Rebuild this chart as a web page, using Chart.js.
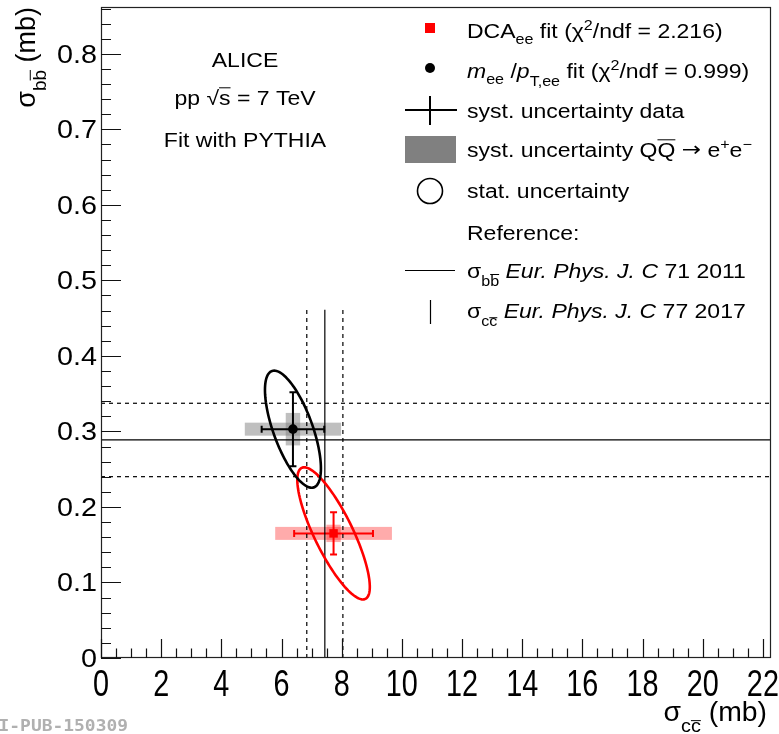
<!DOCTYPE html>
<html><head><meta charset="utf-8">
<script src="https://cdn.jsdelivr.net/npm/chart.js@4"></script>
<style>html,body{margin:0;padding:0;background:#fff;}#wrap{width:779px;height:734px;}</style>
</head><body><div id="wrap"><canvas id="c" width="779" height="734"></canvas></div>
<script>
// ---- data ----
const fitLabels = ['DCA_ee fit', 'm_ee / pT,ee fit'];
const sigmaCC = [7.73, 6.38];          // mb
const sigmaBB = [0.165, 0.303];        // mb
const statErrCC = [1.31, 1.04];
const statErrBB = [0.028, 0.049];
const systCC = [1.94, 1.60];
const systBB = [0.0115, 0.0215];
const ellSigCC = [1.205, 0.93];
const ellSigBB = [0.0875, 0.0775];
const ellRho = [-0.81, -0.67];
const refBB = 0.2887, refBBErr = 0.0486;   // Eur. Phys. J. C 71 2011
const refCC = 7.44, refCCErr = 0.60;       // Eur. Phys. J. C 77 2017
const refCCTop = 0.461;
const xTicks = [0,2,4,6,8,10,12,14,16,18,20,22];
const yTicks = [0,0.1,0.2,0.3,0.4,0.5,0.6,0.7,0.8];
const xMax = 22.27, yMax = 0.862;

const FONT = '"Liberation Sans", Arial, Helvetica, sans-serif';
const RED = '#ff0000';

function rich(ctx, x, y, segs, size, hs, align){
  let w = 0; const parts = [];
  for (const s of segs){
    const sz = (s.sub || s.sup) ? size*0.7 : size*(s.scale || 1);
    const font = (s.it ? 'italic ' : '') + sz + 'px ' + (s.font || FONT);
    ctx.font = font;
    const mw = ctx.measureText(s.t).width;
    parts.push({s, sz, font, x: w, mw});
    w += mw + (s.gap || 0);
  }
  const x0 = align === 'center' ? -w/2 : align === 'right' ? -w : 0;
  ctx.save(); ctx.translate(x, y); ctx.scale(hs, 1);
  for (const p of parts){
    ctx.font = p.font;
    const dy = p.s.sub ? size*(p.s.deep ? 0.42 : 0.3) : p.s.sup ? -size*0.4 : (p.s.dy || 0);
    ctx.fillText(p.s.t, x0 + p.x, dy);
    if (p.s.over){
      ctx.beginPath();
      ctx.lineWidth = 1;
      const oy = dy - p.sz*(p.s.oy || 0.8);
      ctx.moveTo(x0 + p.x + (p.s.ox || 0), oy); ctx.lineTo(x0 + p.x + p.mw, oy);
      ctx.strokeStyle = ctx.fillStyle; ctx.stroke();
    }
  }
  ctx.restore();
  return w*hs;
}

const rootPlugin = {
  id: 'rootStyle',
  beforeDatasetsDraw(chart){
    const ctx = chart.ctx, xs = chart.scales.x, ys = chart.scales.y;
    const X = v => xs.getPixelForValue(v), Y = v => ys.getPixelForValue(v);
    const boxFill = ['rgba(255,0,0,0.33)', 'rgba(128,128,128,0.5)'];
    const halfH = 6.5, halfW = 7.2;
    ctx.save();
    for (let i = 0; i < sigmaCC.length; i++){
      const px = X(sigmaCC[i]), py = Y(sigmaBB[i]);
      ctx.fillStyle = boxFill[i];
      const x1 = X(sigmaCC[i]-systCC[i]), x2 = X(sigmaCC[i]+systCC[i]);
      ctx.fillRect(x1, py-halfH, x2-x1, 2*halfH);
      const y1 = Y(sigmaBB[i]+systBB[i]), y2 = Y(sigmaBB[i]-systBB[i]);
      ctx.fillRect(px-halfW, y1, 2*halfW, y2-y1);
    }
    const col = [RED, '#000'];
    for (let i = 0; i < sigmaCC.length; i++){
      const px = X(sigmaCC[i]), py = Y(sigmaBB[i]);
      const xa = X(sigmaCC[i]-statErrCC[i]), xb = X(sigmaCC[i]+statErrCC[i]);
      const ya = Y(sigmaBB[i]+statErrBB[i]), yb = Y(sigmaBB[i]-statErrBB[i]);
      ctx.strokeStyle = col[i]; ctx.lineWidth = 2;
      ctx.beginPath();
      ctx.moveTo(xa, py); ctx.lineTo(xb, py);
      ctx.moveTo(px, ya); ctx.lineTo(px, yb);
      ctx.moveTo(xa, py-3.5); ctx.lineTo(xa, py+3.5);
      ctx.moveTo(xb, py-3.5); ctx.lineTo(xb, py+3.5);
      ctx.moveTo(px-3.5, ya); ctx.lineTo(px+3.5, ya);
      ctx.moveTo(px-3.5, yb); ctx.lineTo(px+3.5, yb);
      ctx.stroke();
    }
    ctx.restore();
  },
  afterDatasetsDraw(chart){
    const ctx = chart.ctx, xs = chart.scales.x, ys = chart.scales.y;
    const X = v => xs.getPixelForValue(v), Y = v => ys.getPixelForValue(v);
    const col = [RED, '#000'];
    ctx.save();
    for (let i = 0; i < sigmaCC.length; i++){
      ctx.strokeStyle = col[i]; ctx.lineWidth = 2.6;
      ctx.beginPath();
      const r = ellRho[i], q = Math.sqrt(1 - r*r);
      for (let k = 0; k <= 120; k++){
        const t = k/120*2*Math.PI;
        const vx = sigmaCC[i] + ellSigCC[i]*Math.cos(t);
        const vy = sigmaBB[i] + ellSigBB[i]*(r*Math.cos(t) + q*Math.sin(t));
        if (k === 0) ctx.moveTo(X(vx), Y(vy)); else ctx.lineTo(X(vx), Y(vy));
      }
      ctx.closePath(); ctx.stroke();
    }
    ctx.restore();
  },
  afterDraw(chart){
    const ctx = chart.ctx, xs = chart.scales.x, ys = chart.scales.y, a = chart.chartArea;
    const X = v => xs.getPixelForValue(v), Y = v => ys.getPixelForValue(v);
    ctx.save();
    ctx.strokeStyle = '#222'; ctx.lineWidth = 1.2;
    ctx.strokeRect(a.left+0.5, a.top+0.5, a.right-a.left-1, a.bottom-a.top-1);
    ctx.strokeStyle = '#111'; ctx.lineWidth = 1.2;
    ctx.beginPath();
    for (let v = 0; v <= xMax + 1e-9; v += 0.5){
      const major = Math.abs(v/2 - Math.round(v/2)) < 1e-6;
      const px = Math.round(X(v)) + 0.5;
      ctx.moveTo(px, a.bottom); ctx.lineTo(px, a.bottom - (major ? 19 : 9.5));
    }
    for (let v = 0; v <= yMax + 1e-9; v += 0.02){
      const major = Math.abs(v*10 - Math.round(v*10)) < 1e-6;
      const py = Math.round(Y(v)) + 0.5;
      ctx.moveTo(a.left, py); ctx.lineTo(a.left + (major ? 20 : 10), py);
    }
    ctx.stroke();
    ctx.fillStyle = '#000';
    for (const v of xTicks){
      rich(ctx, X(v), 696, [{t: String(v)}], 36, 0.8, 'center');
    }
    for (const v of yTicks){
      rich(ctx, 97, Y(v) + 9, [{t: v === 0 ? '0' : v.toFixed(1)}], 25, 1.15, 'right');
    }
    rich(ctx, 767, 721, [{t:'σ'},{t:'c', sub:true, deep:true},{t:'c', sub:true, deep:true, over:true, oy:0.62},{t:' (mb)'}], 27, 1.05, 'right');
    ctx.save(); ctx.translate(35, 7); ctx.rotate(-Math.PI/2);
    rich(ctx, 0, 0, [{t:'σ'},{t:'b', sub:true, deep:true},{t:'b', sub:true, deep:true, over:true, oy:0.85},{t:' (mb)'}], 27, 1.0, 'right');
    ctx.restore();
    const T = 20, HS = 1.15, cx = 245;
    rich(ctx, cx, 67, [{t:'ALICE'}], T, HS, 'center');
    rich(ctx, cx, 105, [{t:'pp '},{t:'√'},{t:'s', over:true, oy:0.86},{t:' = 7 TeV'}], T, HS, 'center');
    rich(ctx, cx, 147, [{t:'Fit with PYTHIA'}], T, HS, 'center');
    const LX = 467;
    ctx.fillStyle = RED; ctx.fillRect(425, 23, 10, 10);
    ctx.fillStyle = '#000';
    rich(ctx, LX, 38, [{t:'DCA'},{t:'ee', sub:true},{t:' fit (χ'},{t:'2', sup:true},{t:'/ndf = 2.216)'}], T, HS, 'left');
    ctx.beginPath(); ctx.arc(430, 68, 5, 0, 2*Math.PI); ctx.fill();
    rich(ctx, LX, 78, [{t:'m', it:true},{t:'ee', sub:true},{t:' /'},{t:'p', it:true},{t:'T,ee', sub:true, deep:true},{t:' fit (χ'},{t:'2', sup:true},{t:'/ndf = 0.999)'}], T, HS, 'left');
    ctx.strokeStyle = '#000'; ctx.lineWidth = 2;
    ctx.beginPath(); ctx.moveTo(405, 110); ctx.lineTo(457, 110); ctx.moveTo(430, 96); ctx.lineTo(430, 125); ctx.stroke();
    rich(ctx, LX, 118, [{t:'syst. uncertainty data'}], T, HS, 'left');
    ctx.fillStyle = '#808080'; ctx.fillRect(405, 136, 51, 27);
    ctx.fillStyle = '#000';
    rich(ctx, LX, 157, [{t:'syst. uncertainty Q'},{t:'Q', over:true, oy:0.86},{t:' '},{t:'→', font:'"DejaVu Sans", sans-serif', scale:1.0, dy:-1},{t:' e'},{t:'+', sup:true},{t:'e'},{t:'−', sup:true}], T, HS, 'left');
    ctx.lineWidth = 1.6; ctx.beginPath(); ctx.arc(430, 191, 12.5, 0, 2*Math.PI); ctx.stroke();
    rich(ctx, LX, 198, [{t:'stat. uncertainty'}], T, HS, 'left');
    rich(ctx, LX, 240, [{t:'Reference:'}], T, HS, 'left');
    ctx.lineWidth = 1.2;
    ctx.beginPath(); ctx.moveTo(405, 270.5); ctx.lineTo(455, 270.5); ctx.moveTo(430.5, 300); ctx.lineTo(430.5, 324); ctx.stroke();
    rich(ctx, LX, 278, [{t:'σ'},{t:'b', sub:true, deep:true},{t:'b', sub:true, deep:true, over:true, oy:0.85},{t:' '},{t:'Eur. Phys. J. C', it:true},{t:' 71 2011'}], T, HS, 'left');
    rich(ctx, LX, 318, [{t:'σ'},{t:'c', sub:true, deep:true},{t:'c', sub:true, deep:true, over:true, oy:0.62},{t:' '},{t:'Eur. Phys. J. C', it:true},{t:' 77 2017'}], T, HS, 'left');
    ctx.fillStyle = '#b0b0b0';
    ctx.save(); ctx.translate(128, 731); ctx.scale(1.12, 1);
    ctx.font = 'bold 16px "DejaVu Sans Mono", monospace'; ctx.textAlign = 'right';
    ctx.fillText('ALI-PUB-150309', 0, 0);
    ctx.restore();
    ctx.restore();
  }
};

const lineDs = (pts, dash) => ({
  type: 'line', data: pts, borderColor: '#000', borderWidth: 1.2, borderDash: dash,
  pointRadius: 0, fill: false, tension: 0, order: 5
});

new Chart(document.getElementById('c'), {
  type: 'scatter',
  data: {
    datasets: [
      lineDs([{x:0, y:refBB}, {x:xMax, y:refBB}], []),
      lineDs([{x:0, y:refBB+refBBErr}, {x:xMax, y:refBB+refBBErr}], [4,4]),
      lineDs([{x:0, y:refBB-refBBErr}, {x:xMax, y:refBB-refBBErr}], [4,4]),
      lineDs([{x:refCC, y:0}, {x:refCC, y:refCCTop}], []),
      lineDs([{x:refCC-refCCErr, y:0}, {x:refCC-refCCErr, y:refCCTop}], [4,4]),
      lineDs([{x:refCC+refCCErr, y:0}, {x:refCC+refCCErr, y:refCCTop}], [4,4]),
      { label: fitLabels[0], data: [{x: sigmaCC[0], y: sigmaBB[0]}], pointStyle: 'rect',
        pointRadius: 6, backgroundColor: RED, borderWidth: 0, order: 1 },
      { label: fitLabels[1], data: [{x: sigmaCC[1], y: sigmaBB[1]}], pointStyle: 'circle',
        pointRadius: 4.8, backgroundColor: '#000', borderWidth: 0, order: 1 }
    ]
  },
  options: {
    responsive: false, animation: false, devicePixelRatio: 1,
    layout: { padding: { top: 7, right: 8, left: 0, bottom: 0 } },
    plugins: { legend: { display: false }, tooltip: { enabled: false } },
    scales: {
      x: { type: 'linear', min: 0, max: xMax,
        afterFit(s){ s.height = 76; },
        afterBuildTicks(s){ s.ticks = xTicks.map(v => ({value: v})); },
        ticks: { display: false }, grid: { display: false }, border: { display: false } },
      y: { type: 'linear', min: 0, max: yMax,
        afterFit(s){ s.width = 101; },
        afterBuildTicks(s){ s.ticks = yTicks.map(v => ({value: v})); },
        ticks: { display: false }, grid: { display: false }, border: { display: false } }
    }
  },
  plugins: [rootPlugin]
});
</script></body></html>
